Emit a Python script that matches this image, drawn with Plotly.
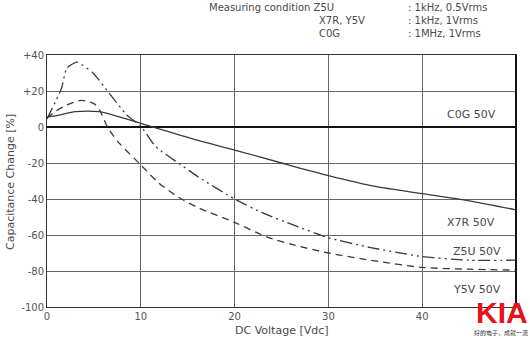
import plotly.graph_objects as go

# ---- data (DC voltage [Vdc] vs capacitance change [%]) ----
x7r_v = [0, 1.4, 3.0, 5.6, 6.7, 10, 16.2, 20, 25, 30, 35, 40, 45, 50]
x7r_c = [5.5, 6.7, 8.5, 8.5, 7.2, 2, -7.6, -12.8, -20, -27, -33, -37, -41, -46]

z5u_v = [0, 1.55, 2.1, 3.2, 4.9, 6.6, 8.5, 10, 11.6, 14, 16.2, 20, 23.1, 26.3, 30, 34.5, 40, 45, 50]
z5u_c = [4.5, 21.5, 32.7, 36, 30, 19, 6.7, 0.5, -11, -20, -28, -40, -48, -54.5, -61.5, -67, -72, -74, -74]

y5v_v = [0, 0.85, 2.1, 3.6, 5.0, 5.6, 6.45, 7.7, 9.8, 11.9, 14, 16.2, 20, 23.4, 26.3, 30, 34.5, 40, 45, 50]
y5v_c = [5, 8.5, 12.2, 14.8, 13, 9.4, 0, -9, -20, -31, -39, -45, -53, -61, -65.5, -70, -74, -78, -79, -79.5]

c0g_v = [0, 50]
c0g_c = [0, 0]

x_ticks = [0, 10, 20, 30, 40]
x_ticktext = ["0", "10", "20", "30", "40"]
y_ticks = [40, 20, 0, -20, -40, -60, -80, -100]
y_ticktext = ["+40", "+20", "0", "-20", "-40", "-60", "-80", "-100"]

curve_labels = ["C0G 50V", "X7R 50V", "Z5U 50V", "Y5V 50V"]
label_x = [45.3, 45.2, 45.8, 45.8]
label_y = [6.7, -53.3, -69.3, -90]

FONT = "DejaVu Sans"
LINE = "#3a3a3a"
TXT = "#4a4a4a"

fig = go.Figure()
fig.add_trace(go.Scatter(x=c0g_v, y=c0g_c, mode="lines",
                         line=dict(color="#111111", width=2), showlegend=False))
fig.add_trace(go.Scatter(x=x7r_v, y=x7r_c, mode="lines", line_shape="spline",
                         line=dict(color=LINE, width=1.3, smoothing=0.8), showlegend=False))
fig.add_trace(go.Scatter(x=z5u_v, y=z5u_c, mode="lines", line_shape="spline",
                         line=dict(color=LINE, width=1.3, smoothing=0.5,
                                   dash="12px,4px,2px,4px,2px,4px"),
                         showlegend=False))
fig.add_trace(go.Scatter(x=y5v_v, y=y5v_c, mode="lines", line_shape="spline",
                         line=dict(color=LINE, width=1.3, smoothing=0.7, dash="7px,5px"),
                         showlegend=False))

annotations = []
for t, ax, ay in zip(curve_labels, label_x, label_y):
    annotations.append(dict(x=ax, y=ay, xref="x", yref="y", text=t, showarrow=False,
                            xanchor="center", yanchor="middle",
                            font=dict(family=FONT, size=11, color=TXT)))

# header and other texts placed in pixels, converted to paper below
hdr_font = dict(family=FONT, size=10, color=TXT)
px_annotations = [
    dict(x=207, y=7, text="Measuring condition Z5U", xanchor="left", font=hdr_font),
    dict(x=317, y=20, text="X7R, Y5V", xanchor="left", font=hdr_font),
    dict(x=317, y=33, text="C0G", xanchor="left", font=hdr_font),
    dict(x=406, y=7, text=": 1kHz, 0.5Vrms", xanchor="left", font=hdr_font),
    dict(x=406, y=20, text=": 1kHz, 1Vrms", xanchor="left", font=hdr_font),
    dict(x=406, y=33, text=": 1MHz, 1Vrms", xanchor="left", font=hdr_font),
    dict(x=282, y=330, text="DC Voltage [Vdc]", xanchor="center",
         font=dict(family=FONT, size=11, color=TXT)),
    dict(x=10, y=182, text="Capacitance Change [%]", xanchor="center", textangle=-90,
         font=dict(family=FONT, size=11, color=TXT)),
    dict(x=502, y=312, text="<b>KIA</b>", xanchor="center",
         font=dict(family="Liberation Sans", size=30, color="#e5121b")),
    dict(x=472, y=332, text="好的电子，成就一流", xanchor="left",
         font=dict(family="Noto Sans CJK SC", size=6, color="#333333")),
]
W, H = 530, 339
ML, MR, MT, MB = 47, 14, 55, 32
PW, PH = W - ML - MR, H - MT - MB
for a in px_annotations:
    px, py = a["x"], a["y"]
    a.update(xref="paper", yref="paper", x=(px - ML) / PW, y=1 - (py - MT) / PH,
             yanchor="middle", showarrow=False)
    annotations.append(a)

fig.update_layout(
    width=W, height=H,
    margin=dict(l=ML, r=MR, t=MT, b=MB),
    paper_bgcolor="white", plot_bgcolor="white",
    annotations=annotations,
    shapes=[dict(type="line", xref="paper", yref="paper", x0=1, x1=1, y0=0, y1=1,
                 line=dict(color="#111111", width=2))],
)
fig.update_xaxes(range=[0, 50], tickvals=x_ticks, ticktext=x_ticktext,
                 showgrid=True, gridcolor="#666666", gridwidth=1,
                 showline=True, linecolor="#333333", linewidth=1, mirror=True,
                 ticks="", zeroline=False,
                 tickfont=dict(family=FONT, size=10, color="#555555"))
fig.update_yaxes(range=[-100, 40], tickvals=y_ticks, ticktext=y_ticktext,
                 showgrid=True, gridcolor="#666666", gridwidth=1,
                 showline=True, linecolor="#333333", linewidth=1, mirror=True,
                 ticks="", zeroline=False,
                 tickfont=dict(family=FONT, size=10, color="#555555"))

fig.write_html("out.html")
